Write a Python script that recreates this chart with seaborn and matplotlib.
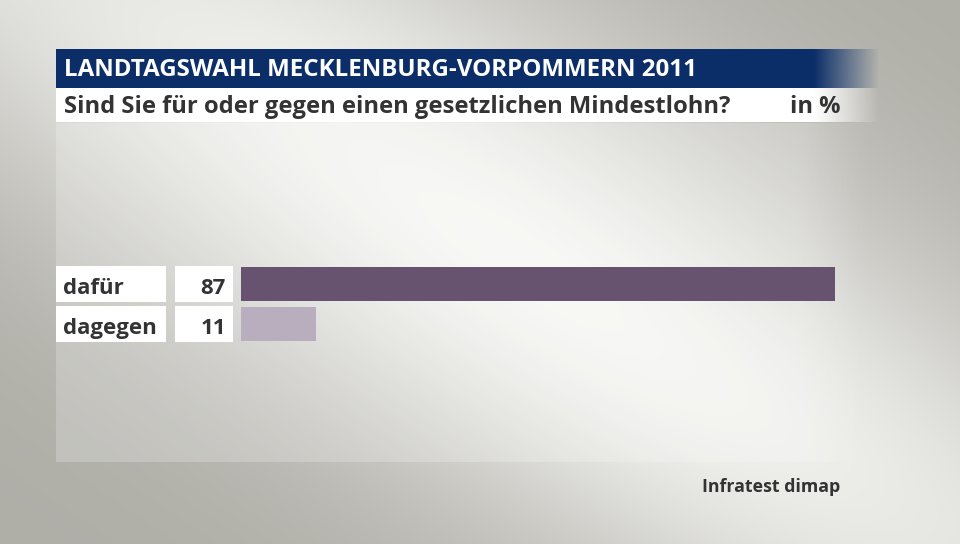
import numpy as np
import pandas as pd
import matplotlib
matplotlib.use('Agg')
import matplotlib.pyplot as plt
from matplotlib.patches import Rectangle
from matplotlib.transforms import blended_transform_factory
import seaborn as sns

# Data
categories = ['dafür', 'dagegen']
values = [87, 11]
bar_colors = ['#67536f', '#b8aebd']
title = 'LANDTAGSWAHL MECKLENBURG-VORPOMMERN 2011'
subtitle = 'Sind Sie für oder gegen einen gesetzlichen Mindestlohn?'
unit = 'in %'
source = 'Infratest dimap'

sns.set_theme(style='white')
plt.rcParams['font.family'] = ['Open Sans', 'DejaVu Sans']
text_color = '#333333'

W, H = 960, 544
fig = plt.figure(figsize=(W / 100, H / 100), dpi=100)

# Background: diagonal light sheen on gray
ax_bg = fig.add_axes([0, 0, 1, 1])
yy, xx = np.mgrid[0:H, 0:W]
# distance from a line running top-left to bottom-right
p0 = np.array([60.0, -40.0])
p1 = np.array([980.0, 560.0])
d = p1 - p0
d = d / np.hypot(*d)
dist = np.abs((xx - p0[0]) * d[1] - (yy - p0[1]) * d[0])
along = ((xx - p0[0]) * d[0] + (yy - p0[1]) * d[1]) / 1100
glow = np.exp(-(dist / 230.0) ** 2) * (0.75 + 0.25 * np.sin(np.pi * np.clip(along, 0, 1)))
dark = np.array([0.685, 0.682, 0.655])
light = np.array([0.965, 0.965, 0.955])
bg = dark + (light - dark) * glow[..., None]
ax_bg.imshow(bg, extent=(0, W, H, 0), aspect='auto', zorder=0)

# lighter panel
panel = np.ones((10, 400, 4))
fade = np.clip((870 - np.linspace(56, 880, 400)) / 70, 0, 1)
panel[..., 3] = 0.22 * fade[None, :]
ax_bg.imshow(panel, extent=(56, 880, 462, 123), aspect='auto', zorder=1)

# title bar with fading right edge
xs = np.linspace(56, 880, 600)
fade = np.clip((880 - xs) / 65, 0, 1)
tb = np.zeros((4, 600, 4))
tb[..., :3] = matplotlib.colors.to_rgb('#0b2e69')
tb[..., 3] = fade[None, :]
ax_bg.imshow(tb, extent=(56, 880, 88, 49), aspect='auto', zorder=2)
sb = np.ones((4, 600, 4))
sb[..., 3] = fade[None, :]
ax_bg.imshow(sb, extent=(56, 880, 122, 88), aspect='auto', zorder=2)

ax_bg.set_xlim(0, W)
ax_bg.set_ylim(H, 0)
ax_bg.axis('off')

ax_bg.text(64, 75.5, title, color='white', fontsize=17.4, fontweight='bold',
           va='baseline', ha='left', zorder=3)
ax_bg.text(64, 113, subtitle, color=text_color, fontsize=17.1, fontweight='bold',
           va='baseline', ha='left', zorder=3)
ax_bg.text(840, 113, unit, color=text_color, fontsize=17.1, fontweight='bold',
           va='baseline', ha='right', zorder=3)
ax_bg.text(840, 492, source, color=text_color, fontsize=12.8, fontweight='bold',
           va='baseline', ha='right', zorder=3)

# Bars
df = pd.DataFrame({'category': categories, 'value': values})
ax = fig.add_axes([241 / W, 1 - 344 / H, 683 / W, 80 / H])
ax.patch.set_alpha(0)
sns.barplot(data=df, x='value', y='category', hue='category',
            palette=bar_colors, orient='h', width=0.83, legend=False,
            saturation=1, linewidth=0, ax=ax)
ax.set_xlim(0, 100)
ax.set_ylim(1.5, -0.5)
ax.axis('off')

# label boxes
tr = blended_transform_factory(ax_bg.transData, ax.transData)
for i, (cat, val) in enumerate(zip(categories, values)):
    for x0, x1 in [(56, 166), (175, 233)]:
        fig.add_artist(Rectangle((x0, i - 0.44), x1 - x0, 0.88, transform=tr,
                                 facecolor='white', edgecolor='none', zorder=3))
    fig.text(63, i + 0.24, cat, transform=tr, color=text_color, fontsize=16,
             fontweight='bold', va='baseline', ha='left', zorder=4)
    fig.text(226, i + 0.24, f'{val}', transform=tr, color=text_color, fontsize=16,
             fontweight='bold', va='baseline', ha='right', zorder=4)

fig.savefig('out.png', dpi=100)
